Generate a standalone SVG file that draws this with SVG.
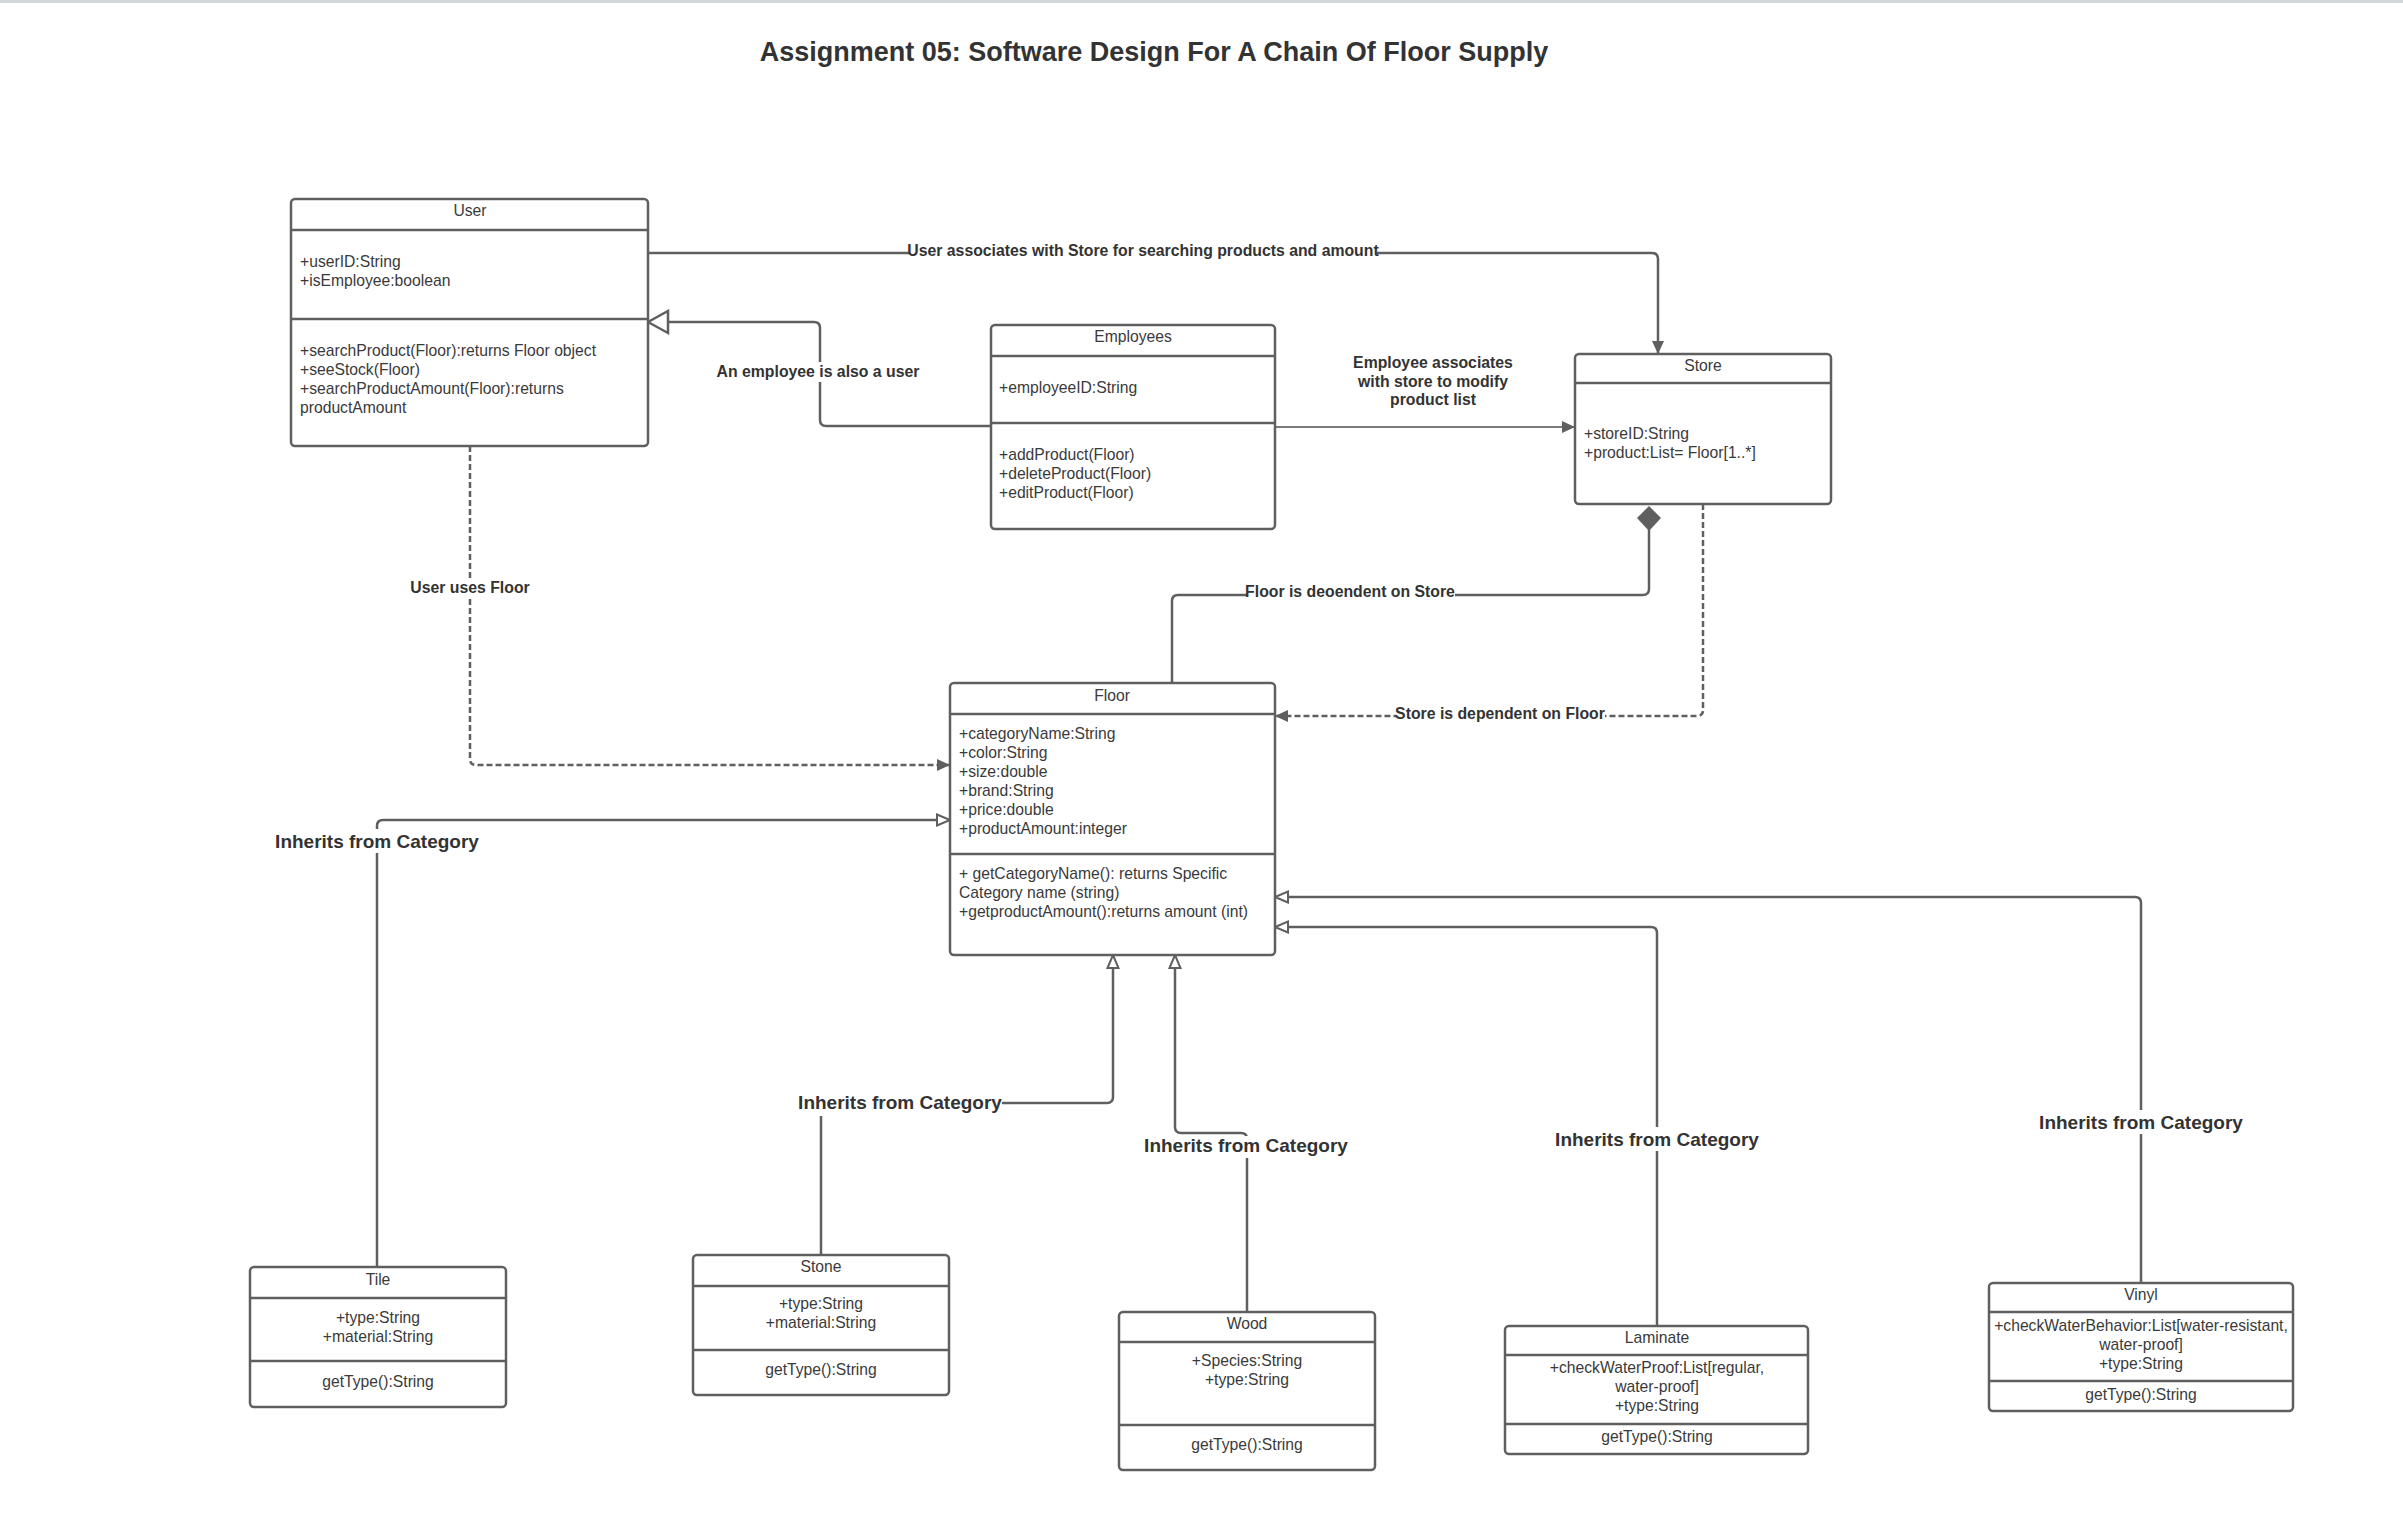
<svg xmlns="http://www.w3.org/2000/svg" width="2403" height="1522" viewBox="0 0 2403 1522">
<style>
.box{fill:#fff;stroke:#5f5f5f;stroke-width:2.5}
.sep{stroke:#5f5f5f;stroke-width:2.5}
.t{font-family:"Liberation Sans",Arial,sans-serif;font-size:15.7px;fill:#3a3a3a}
.c{text-anchor:middle}
.lbl{font-family:"Liberation Sans",Arial,sans-serif;font-size:15.8px;font-weight:bold;fill:#333;text-anchor:middle}
.big{font-size:19px}
.ln{fill:none;stroke:#5f5f5f;stroke-width:2.5}
.dash{stroke-dasharray:6 3}
.bg{fill:#fff}
</style>
<defs>
<marker id="af" markerUnits="userSpaceOnUse" markerWidth="14" markerHeight="12" refX="13" refY="6" orient="auto">
<path d="M0,0 L13,6 L0,12 z" fill="#5f5f5f"/>
</marker>
<marker id="ts" markerUnits="userSpaceOnUse" markerWidth="16" markerHeight="14" refX="14" refY="7" orient="auto">
<path d="M1,1.5 L14,7 L1,12.5 z" fill="#fff" stroke="#5f5f5f" stroke-width="2"/>
</marker>
<marker id="tl" markerUnits="userSpaceOnUse" markerWidth="24" markerHeight="26" refX="22" refY="13" orient="auto">
<path d="M2,2 L22,13 L2,24 z" fill="#fff" stroke="#5f5f5f" stroke-width="2.5"/>
</marker>
</defs>
<rect width="2403" height="1522" fill="#fff"/>
<rect x="0" y="0" width="2403" height="3" fill="#d3d6da"/>
<text x="1154" y="61" font-family="'Liberation Sans',Arial,sans-serif" font-size="27" font-weight="bold" fill="#333" text-anchor="middle">Assignment 05: Software Design For A Chain Of Floor Supply</text>

<g id="connectors">
<!-- User -> Store association -->
<path class="ln" d="M648,253 H1652 Q1658,253 1658,259 V354" marker-end="url(#af)"/>
<rect class="bg" x="909" y="241" width="468" height="20"/>
<text class="lbl" x="1143" y="256">User associates with Store for searching products and amount</text>
<!-- Employees -> User generalization -->
<path class="ln" d="M991,426 H826 Q820,426 820,420 V328 Q820,322 814,322 H648" marker-end="url(#tl)"/>
<rect class="bg" x="718" y="362" width="202" height="20"/>
<text class="lbl" x="818" y="377">An employee is also a user</text>
<!-- Employees -> Store -->
<path d="M1275,427 H1575" fill="none" stroke="#7a7a7a" stroke-width="2" marker-end="url(#af)"/>
<text class="lbl" x="1433" y="368">Employee associates</text>
<text class="lbl" x="1433" y="387">with store to modify</text>
<text class="lbl" x="1433" y="405">product list</text>
<!-- User -> Floor dependency -->
<path class="ln dash" d="M470,446 V759 Q470,765 476,765 H950" marker-end="url(#af)"/>
<rect class="bg" x="408" y="578" width="124" height="20"/>
<text class="lbl" x="470" y="593">User uses Floor</text>
<!-- Floor -> Store composition -->
<path class="ln" d="M1172,683 V601 Q1172,595 1178,595 H1643 Q1649,595 1649,589 V530"/>
<path d="M1649,506 L1661,518 L1649,531 L1637,518 z" fill="#5f5f5f"/>
<rect class="bg" x="1247" y="583" width="208" height="20"/>
<text class="lbl" x="1350" y="597">Floor is deoendent on Store</text>
<!-- Store -> Floor dependency -->
<path class="ln dash" d="M1703,504 V710 Q1703,716 1697,716 H1275" marker-end="url(#af)"/>
<rect class="bg" x="1397" y="704" width="208" height="20"/>
<text class="lbl" x="1500" y="719">Store is dependent on Floor</text>
<!-- Tile -> Floor -->
<path class="ln" d="M377,1267 V826 Q377,820 383,820 H950" marker-end="url(#ts)"/>
<rect class="bg" x="274" y="829" width="208" height="24"/>
<text class="lbl big" x="377" y="848">Inherits from Category</text>
<!-- Stone -> Floor -->
<path class="ln" d="M821,1255 V1109 Q821,1103 827,1103 H1107 Q1113,1103 1113,1097 V955" marker-end="url(#ts)"/>
<rect class="bg" x="798" y="1090" width="204" height="26"/>
<text class="lbl big" x="900" y="1109">Inherits from Category</text>
<!-- Wood -> Floor -->
<path class="ln" d="M1247,1312 V1139 Q1247,1133 1241,1133 H1181 Q1175,1133 1175,1127 V955" marker-end="url(#ts)"/>
<rect class="bg" x="1144" y="1136" width="206" height="22"/>
<text class="lbl big" x="1246" y="1152">Inherits from Category</text>
<!-- Laminate -> Floor -->
<path class="ln" d="M1657,1326 V933 Q1657,927 1651,927 H1275" marker-end="url(#ts)"/>
<rect class="bg" x="1555" y="1127" width="206" height="24"/>
<text class="lbl big" x="1657" y="1146">Inherits from Category</text>
<!-- Vinyl -> Floor -->
<path class="ln" d="M2141,1283 V903 Q2141,897 2135,897 H1275" marker-end="url(#ts)"/>
<rect class="bg" x="2038" y="1110" width="206" height="24"/>
<text class="lbl big" x="2141" y="1129">Inherits from Category</text>
</g>

<g id="user">
<rect class="box" x="291" y="199" width="357" height="247" rx="4"/>
<line class="sep" x1="291" y1="230" x2="648" y2="230"/>
<line class="sep" x1="291" y1="319" x2="648" y2="319"/>
<text class="t c" x="470" y="216">User</text>
<text class="t" x="300" y="267">+userID:String</text>
<text class="t" x="300" y="286">+isEmployee:boolean</text>
<text class="t" x="300" y="356">+searchProduct(Floor):returns Floor object</text>
<text class="t" x="300" y="375">+seeStock(Floor)</text>
<text class="t" x="300" y="394">+searchProductAmount(Floor):returns</text>
<text class="t" x="300" y="413">productAmount</text>
</g>

<g id="employees">
<rect class="box" x="991" y="325" width="284" height="204" rx="4"/>
<line class="sep" x1="991" y1="356" x2="1275" y2="356"/>
<line class="sep" x1="991" y1="423" x2="1275" y2="423"/>
<text class="t c" x="1133" y="342">Employees</text>
<text class="t" x="999" y="393">+employeeID:String</text>
<text class="t" x="999" y="460">+addProduct(Floor)</text>
<text class="t" x="999" y="479">+deleteProduct(Floor)</text>
<text class="t" x="999" y="498">+editProduct(Floor)</text>
</g>

<g id="store">
<rect class="box" x="1575" y="354" width="256" height="150" rx="4"/>
<line class="sep" x1="1575" y1="383" x2="1831" y2="383"/>
<text class="t c" x="1703" y="371">Store</text>
<text class="t" x="1584" y="439">+storeID:String</text>
<text class="t" x="1584" y="458">+product:List= Floor[1..*]</text>
</g>

<g id="floor">
<rect class="box" x="950" y="683" width="325" height="272" rx="4"/>
<line class="sep" x1="950" y1="714" x2="1275" y2="714"/>
<line class="sep" x1="950" y1="854" x2="1275" y2="854"/>
<text class="t c" x="1112" y="701">Floor</text>
<text class="t" x="959" y="739">+categoryName:String</text>
<text class="t" x="959" y="758">+color:String</text>
<text class="t" x="959" y="777">+size:double</text>
<text class="t" x="959" y="796">+brand:String</text>
<text class="t" x="959" y="815">+price:double</text>
<text class="t" x="959" y="834">+productAmount:integer</text>
<text class="t" x="959" y="879">+ getCategoryName(): returns Specific</text>
<text class="t" x="959" y="898">Category name (string)</text>
<text class="t" x="959" y="917">+getproductAmount():returns amount (int)</text>
</g>

<g id="tile">
<rect class="box" x="250" y="1267" width="256" height="140" rx="4"/>
<line class="sep" x1="250" y1="1298" x2="506" y2="1298"/>
<line class="sep" x1="250" y1="1361" x2="506" y2="1361"/>
<text class="t c" x="378" y="1285">Tile</text>
<text class="t c" x="378" y="1323">+type:String</text>
<text class="t c" x="378" y="1342">+material:String</text>
<text class="t c" x="378" y="1387">getType():String</text>
</g>

<g id="stone">
<rect class="box" x="693" y="1255" width="256" height="140" rx="4"/>
<line class="sep" x1="693" y1="1286" x2="949" y2="1286"/>
<line class="sep" x1="693" y1="1350" x2="949" y2="1350"/>
<text class="t c" x="821" y="1272">Stone</text>
<text class="t c" x="821" y="1309">+type:String</text>
<text class="t c" x="821" y="1328">+material:String</text>
<text class="t c" x="821" y="1375">getType():String</text>
</g>

<g id="wood">
<rect class="box" x="1119" y="1312" width="256" height="158" rx="4"/>
<line class="sep" x1="1119" y1="1342" x2="1375" y2="1342"/>
<line class="sep" x1="1119" y1="1425" x2="1375" y2="1425"/>
<text class="t c" x="1247" y="1329">Wood</text>
<text class="t c" x="1247" y="1366">+Species:String</text>
<text class="t c" x="1247" y="1385">+type:String</text>
<text class="t c" x="1247" y="1450">getType():String</text>
</g>

<g id="laminate">
<rect class="box" x="1505" y="1326" width="303" height="128" rx="4"/>
<line class="sep" x1="1505" y1="1355" x2="1808" y2="1355"/>
<line class="sep" x1="1505" y1="1424" x2="1808" y2="1424"/>
<text class="t c" x="1657" y="1343">Laminate</text>
<text class="t c" x="1657" y="1373">+checkWaterProof:List[regular,</text>
<text class="t c" x="1657" y="1392">water-proof]</text>
<text class="t c" x="1657" y="1411">+type:String</text>
<text class="t c" x="1657" y="1442">getType():String</text>
</g>

<g id="vinyl">
<rect class="box" x="1989" y="1283" width="304" height="128" rx="4"/>
<line class="sep" x1="1989" y1="1312" x2="2293" y2="1312"/>
<line class="sep" x1="1989" y1="1381" x2="2293" y2="1381"/>
<text class="t c" x="2141" y="1300">Vinyl</text>
<text class="t c" x="2141" y="1331">+checkWaterBehavior:List[water-resistant,</text>
<text class="t c" x="2141" y="1350">water-proof]</text>
<text class="t c" x="2141" y="1369">+type:String</text>
<text class="t c" x="2141" y="1400">getType():String</text>
</g>
</svg>
